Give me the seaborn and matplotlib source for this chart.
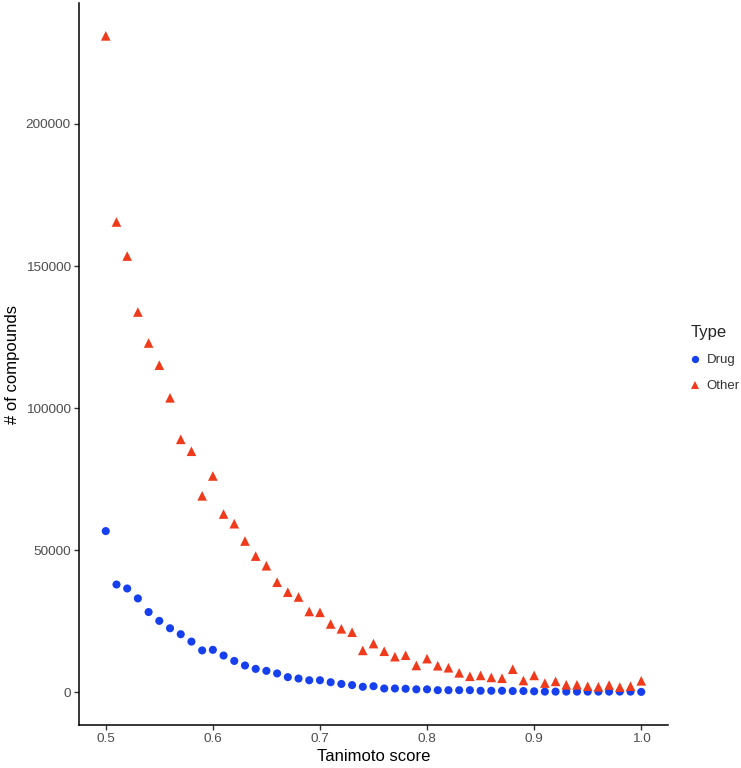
import numpy as np
import pandas as pd
import matplotlib
matplotlib.use('Agg')
import matplotlib.pyplot as plt
import seaborn as sns

# tanimoto score bins 0.50 .. 1.00
scores = [0.50, 0.51, 0.52, 0.53, 0.54, 0.55, 0.56, 0.57, 0.58, 0.59,
          0.60, 0.61, 0.62, 0.63, 0.64, 0.65, 0.66, 0.67, 0.68, 0.69,
          0.70, 0.71, 0.72, 0.73, 0.74, 0.75, 0.76, 0.77, 0.78, 0.79,
          0.80, 0.81, 0.82, 0.83, 0.84, 0.85, 0.86, 0.87, 0.88, 0.89,
          0.90, 0.91, 0.92, 0.93, 0.94, 0.95, 0.96, 0.97, 0.98, 0.99, 1.00]

drug = [56700, 37900, 36500, 33000, 28200, 25100, 22500, 20400, 17800, 14700,
        14900, 12900, 11000, 9400, 8200, 7500, 6600, 5300, 4800, 4200,
        4200, 3500, 2900, 2500, 1900, 2100, 1300, 1300, 1200, 1000,
        1000, 700, 700, 700, 700, 500, 500, 500, 400, 400,
        300, 200, 200, 200, 200, 200, 200, 200, 200, 200, 100]

other = [231000, 165500, 153500, 133800, 122900, 115100, 103600, 89000, 84800, 69100,
         76100, 62700, 59300, 53200, 47900, 44500, 38700, 35200, 33500, 28400,
         28100, 24000, 22300, 21100, 14700, 17100, 14400, 12500, 13000, 9400,
         11800, 9300, 8600, 6800, 5600, 5900, 5200, 4900, 8100, 4100,
         5900, 3200, 3800, 2600, 2600, 2100, 1900, 2500, 1800, 2100, 4000]

types = ['Drug', 'Other']
colors = {'Drug': '#1640EE', 'Other': '#F03A1C'}

df = pd.DataFrame({
    'score': scores * 2,
    'count': drug + other,
    'Type': ['Drug'] * len(scores) + ['Other'] * len(scores),
})

sns.set_style('white')
plt.rcParams['font.family'] = ['Liberation Sans', 'DejaVu Sans']

fig = plt.figure(figsize=(7.41, 7.68), dpi=100)
ax = fig.add_axes([0.1066, 0.056, 0.7949, 0.940])

sns.scatterplot(data=df, x='score', y='count', hue='Type', style='Type', size='Type',
                hue_order=types, style_order=types, size_order=types,
                palette=colors, markers={'Drug': 'o', 'Other': '^'},
                sizes={'Drug': 34, 'Other': 48}, linewidth=0, ax=ax)

ax.set_xlim(0.475, 1.025)
ax.set_ylim(-11550, 242550)
ax.set_xticks([0.5, 0.6, 0.7, 0.8, 0.9, 1.0])
ax.set_xticklabels(['0.5', '0.6', '0.7', '0.8', '0.9', '1.0'])
ax.set_yticks([0, 50000, 100000, 150000, 200000])
ax.set_yticklabels(['0', '50000', '100000', '150000', '200000'])

ax.set_xlabel('Tanimoto score', fontsize=12, color='black', labelpad=3)
ax.set_ylabel('# of compounds', fontsize=12, color='black', labelpad=4)
ax.tick_params(axis='both', which='both', length=3.5, width=1, color='#333333',
               labelsize=9.7, labelcolor='#4D4D4D', pad=2.5,
               bottom=True, left=True)

sns.despine(ax=ax)
for side in ['left', 'bottom']:
    ax.spines[side].set_color('black')
    ax.spines[side].set_linewidth(1.1)

handles, labels = ax.get_legend_handles_labels()
ax.get_legend().remove()
keep = [(h, l) for h, l in zip(handles, labels) if l in types]
leg = fig.legend([k[0] for k in keep], [k[1] for k in keep], title='Type',
                 loc='center left', bbox_to_anchor=(0.932, 0.533),
                 frameon=False, fontsize=9.5, title_fontsize=12,
                 handlelength=0.6, handletextpad=0.6, labelspacing=1.05,
                 borderaxespad=0, borderpad=0, markerscale=0.9)
leg._legend_box.align = 'left'
for t in leg.get_texts():
    t.set_color('#333333')

fig.savefig('out.png', dpi=100)
